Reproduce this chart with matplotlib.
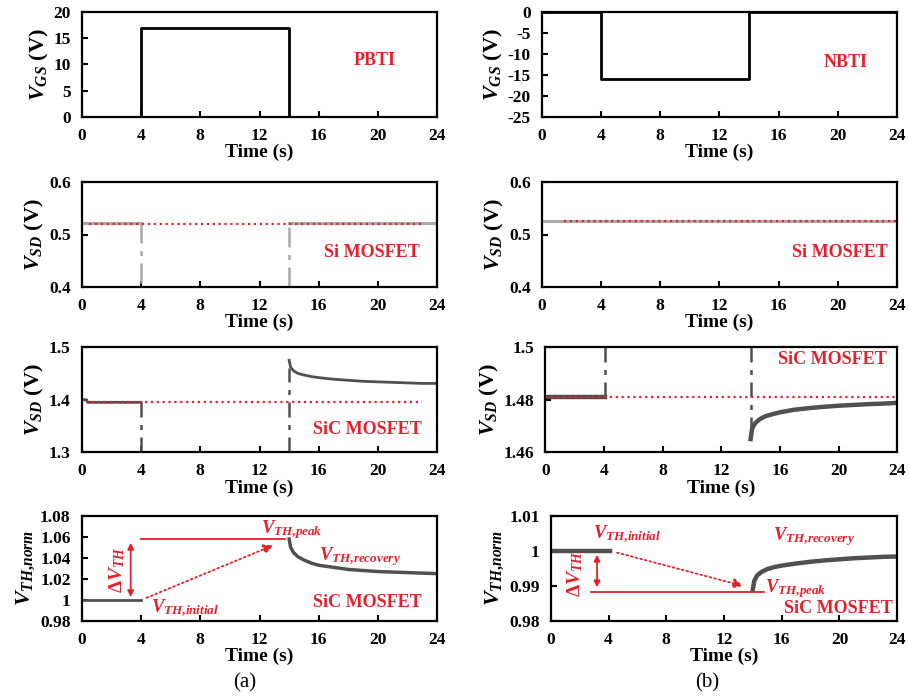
import matplotlib
matplotlib.use("Agg")
import matplotlib.pyplot as plt

plt.rcParams['font.family'] = ['Liberation Serif', 'DejaVu Serif']
plt.rcParams['font.weight'] = 'bold'
plt.rcParams['axes.unicode_minus'] = False
plt.rcParams['mathtext.fontset'] = 'custom'
plt.rcParams['mathtext.rm'] = 'Liberation Serif:bold'
plt.rcParams['mathtext.it'] = 'Liberation Serif:italic:bold'
plt.rcParams['mathtext.bf'] = 'Liberation Serif:bold'

ROJO = '#e3202b'
GRIS = '#aaaaaa'
OSCURO = '#505050'

# --- datos ---
t_pulso = [0, 4, 4, 14, 14, 24]
vgs_pbti = [0, 0, 17, 17, 0, 0]
vgs_nbti = [0, 0, -16, -16, 0, 0]

# Si MOSFET
si_a_nivel = 0.522
si_b_nivel = 0.525

# SiC MOSFET PBTI (recuperacion tras 14 s)
t_rec = [14.0, 14.1, 14.3, 14.6, 15.0, 15.5, 16.0, 17.0, 18.0, 19.0, 20.0, 21.0, 22.0, 23.0, 24.0]
sic_a_rec = [1.475, 1.462, 1.455, 1.450, 1.447, 1.444, 1.442, 1.439, 1.437, 1.435, 1.434, 1.433, 1.432, 1.431, 1.431]
sic_a_ini = 1.395
sic_b_ini = 1.481
sic_b_rec = [1.465, 1.469, 1.471, 1.4725, 1.4737, 1.4745, 1.4752, 1.4762, 1.4768, 1.4773, 1.4777, 1.478, 1.4783, 1.4785, 1.4788]

# V_TH normalizado
vth_a_rec = [1.058, 1.050, 1.045, 1.041, 1.038, 1.035, 1.033, 1.031, 1.029, 1.028, 1.027, 1.0265, 1.026, 1.0255, 1.025]
vth_b_rec = [0.989, 0.9915, 0.9930, 0.9940, 0.9948, 0.9954, 0.9958, 0.9964, 0.9969, 0.9973, 0.9976, 0.9979, 0.9981, 0.9983, 0.9984]

xticks = [0, 4, 8, 12, 16, 20, 24]

fig = plt.figure(figsize=(9.09, 7.0), dpi=100)

filas = [0.833, 0.590, 0.354, 0.113]
alto = 0.150
x_izq, x_der, ancho = 0.090, 0.596, 0.391


def estilo(ax, ylim, yticks, ylabel, yfmt=None):
    ax.set_xlim(0, 24)
    ax.set_ylim(*ylim)
    ax.set_xticks(xticks)
    ax.set_yticks(yticks)
    if yfmt:
        ax.set_yticklabels(yfmt)
    ax.tick_params(direction='in', length=4, width=1.5, labelsize=12.5, pad=8)
    for s in ax.spines.values():
        s.set_linewidth(1.6)
    ax.set_xlabel('Time (s)', fontsize=14, fontweight='bold', labelpad=0)
    ax.set_ylabel(ylabel, fontsize=16, fontweight='bold', labelpad=2)


def txt_rojo(ax, x, y, s, size=13):
    ax.text(x, y, s, color=ROJO, fontsize=size, fontweight='bold', ha='center', va='center')


# fila 1: VGS
ax = fig.add_axes([x_izq, filas[0], ancho, alto])
ax.plot(t_pulso, vgs_pbti, color='black', lw=2)
estilo(ax, (0, 20), [0, 5, 10, 15, 20], r'$V_{GS}$ (V)')
txt_rojo(ax, 19.8, 10.8, 'PBTI')

ax = fig.add_axes([x_der, filas[0], ancho, alto])
ax.plot(t_pulso, vgs_nbti, color='black', lw=2)
estilo(ax, (-25, 0), [-25, -20, -15, -10, -5, 0], r'$V_{GS}$ (V)')
txt_rojo(ax, 20.5, -12, 'NBTI')

# fila 2: Si MOSFET
ax = fig.add_axes([x_izq, filas[1], ancho, alto])
ax.plot([0, 4], [si_a_nivel, si_a_nivel], color=GRIS, lw=2.2)
ax.plot([14, 24], [si_a_nivel, si_a_nivel], color=GRIS, lw=2.2)
ax.plot([4, 4], [si_a_nivel, 0.4], color=GRIS, lw=1.8, dashes=(8, 3, 2, 3))
ax.plot([14, 14], [0.4, si_a_nivel], color=GRIS, lw=1.8, dashes=(8, 3, 2, 3))
ax.plot([0.5, 23], [si_a_nivel - 0.002, si_a_nivel - 0.002], color=ROJO, lw=1.6, ls=':')
estilo(ax, (0.4, 0.6), [0.4, 0.5, 0.6], r'$V_{SD}$ (V)')
txt_rojo(ax, 19.6, 0.465, 'Si MOSFET')

ax = fig.add_axes([x_der, filas[1], ancho, alto])
ax.plot([0, 24], [si_b_nivel, si_b_nivel], color=GRIS, lw=2.2)
ax.plot([1.5, 24], [si_b_nivel, si_b_nivel], color=ROJO, lw=1.6, ls=':')
estilo(ax, (0.4, 0.6), [0.4, 0.5, 0.6], r'$V_{SD}$ (V)')
txt_rojo(ax, 20.1, 0.466, 'Si MOSFET')

# fila 3: SiC MOSFET
ax = fig.add_axes([x_izq, filas[2], ancho, alto])
ax.plot([0, 0.3, 0.4, 4], [1.400, 1.400, sic_a_ini, sic_a_ini], color=OSCURO, lw=2)
ax.plot([4, 4], [sic_a_ini, 1.3], color=OSCURO, lw=1.8, dashes=(6, 3, 2, 3))
ax.plot([14, 14], [1.3, 1.46], color=OSCURO, lw=1.8, dashes=(6, 3, 2, 3))
ax.plot(t_rec, sic_a_rec, color=OSCURO, lw=2)
ax.plot([0.3, 23], [1.396, 1.396], color=ROJO, lw=1.6, ls=':')
estilo(ax, (1.3, 1.5), [1.3, 1.4, 1.5], r'$V_{SD}$ (V)')
txt_rojo(ax, 19.3, 1.344, 'SiC MOSFET')

ax = fig.add_axes([x_der + 0.004, filas[2], ancho - 0.004, alto])
ax.plot([0, 4.1], [sic_b_ini, sic_b_ini], color=OSCURO, lw=3.2)
ax.plot([4.1, 4.1], [sic_b_ini, 1.5], color=OSCURO, lw=1.8, dashes=(6, 3, 2, 3))
ax.plot([14, 14], [1.5, 1.466], color=OSCURO, lw=1.8, dashes=(6, 3, 2, 3))
ax.plot(t_rec, sic_b_rec, color=OSCURO, lw=3.2)
ax.plot([0, 24], [1.4812, 1.4812], color=ROJO, lw=1.6, ls=':')
estilo(ax, (1.46, 1.5), [1.46, 1.48, 1.5], r'$V_{SD}$ (V)', ['1.46', '1.48', '1.5'])
txt_rojo(ax, 19.6, 1.4955, 'SiC MOSFET')

# fila 4: VTH normalizado
ax = fig.add_axes([x_izq, filas[3], ancho, alto])
ax.plot([0, 4], [1.0, 1.0], color=OSCURO, lw=2)
ax.plot(t_rec, vth_a_rec, color=OSCURO, lw=2.5)
ax.plot([4, 13.7], [1.058, 1.058], color=ROJO, lw=1.3)
ax.annotate('', xy=(3.3, 1.0), xytext=(3.3, 1.057),
            arrowprops=dict(arrowstyle='<|-|>', color=ROJO, lw=1.3, mutation_scale=9))
ax.annotate('', xy=(13.1, 1.053), xytext=(4.2, 1.001),
            arrowprops=dict(arrowstyle='-|>', color=ROJO, lw=1.3, ls=':', mutation_scale=14))
ax.text(2.4, 1.029, r'$\Delta V_{TH}$', color=ROJO, fontsize=14, rotation=90, ha='center', va='center')
ax.text(14.2, 1.067, r'$V_{TH{,}peak}$', color=ROJO, fontsize=13.5, ha='center', va='center')
ax.text(18.8, 1.041, r'$V_{TH{,}recovery}$', color=ROJO, fontsize=13.5, ha='center', va='center')
ax.text(7.0, 0.992, r'$V_{TH{,}initial}$', color=ROJO, fontsize=13.5, ha='center', va='center')
estilo(ax, (0.98, 1.08), [0.98, 1.0, 1.02, 1.04, 1.06, 1.08], r'$V_{TH{,}norm}$',
       ['0.98', '1', '1.02', '1.04', '1.06', '1.08'])
txt_rojo(ax, 19.3, 0.998, 'SiC MOSFET')

ax = fig.add_axes([x_der + 0.01, filas[3], ancho - 0.01, alto])
ax.plot([0, 4.1], [1.0, 1.0], color=OSCURO, lw=3.2)
ax.plot(t_rec, vth_b_rec, color=OSCURO, lw=3.2)
ax.plot([2.8, 14.8], [0.9882, 0.9882], color=ROJO, lw=1.3)
ax.annotate('', xy=(3.2, 0.9888), xytext=(3.2, 0.9997),
            arrowprops=dict(arrowstyle='<|-|>', color=ROJO, lw=1.3, mutation_scale=9))
ax.annotate('', xy=(13.5, 0.9898), xytext=(4.4, 0.9997),
            arrowprops=dict(arrowstyle='-|>', color=ROJO, lw=1.3, ls=':', mutation_scale=14))
ax.text(1.7, 0.9935, r'$\Delta V_{TH}$', color=ROJO, fontsize=14, rotation=90, ha='center', va='center')
ax.text(17.0, 0.9892, r'$V_{TH{,}peak}$', color=ROJO, fontsize=13.5, ha='center', va='center')
ax.text(18.2, 1.0042, r'$V_{TH{,}recovery}$', color=ROJO, fontsize=13.5, ha='center', va='center')
ax.text(5.3, 1.0047, r'$V_{TH{,}initial}$', color=ROJO, fontsize=13.5, ha='center', va='center')
estilo(ax, (0.98, 1.01), [0.98, 0.99, 1.0, 1.01], r'$V_{TH{,}norm}$',
       ['0.98', '0.99', '1', '1.01'])
txt_rojo(ax, 19.9, 0.9836, 'SiC MOSFET')

fig.text(0.269, 0.025, '(a)', ha='center', va='center', fontsize=15, fontweight='normal')
fig.text(0.778, 0.025, '(b)', ha='center', va='center', fontsize=15, fontweight='normal')

fig.savefig('out.png', dpi=100)
